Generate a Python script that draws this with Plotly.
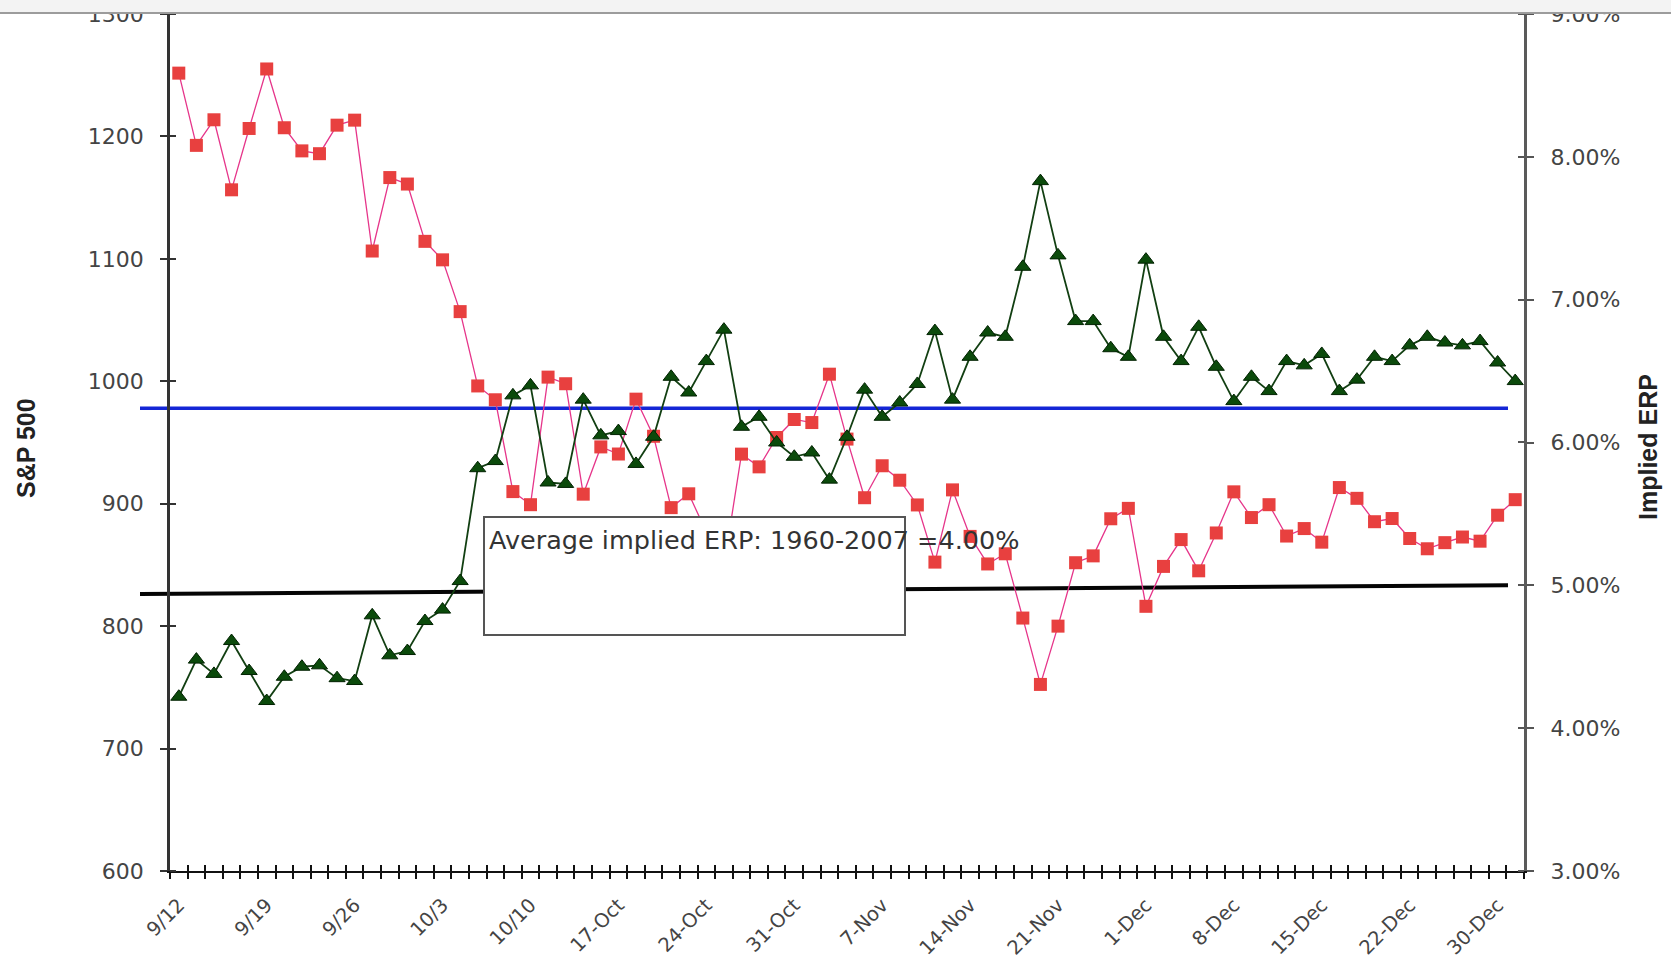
import plotly.graph_objects as go

# Trading days, 12 Sep 2008 - 31 Dec 2008
dates = [
    "9/12", "9/15", "9/16", "9/17", "9/18", "9/19", "9/22", "9/23", "9/24", "9/25",
    "9/26", "9/29", "9/30", "10/1", "10/2", "10/3", "10/6", "10/7", "10/8", "10/9",
    "10/10", "10/13", "10/14", "10/15", "10/16", "17-Oct", "20-Oct", "21-Oct", "22-Oct", "23-Oct",
    "24-Oct", "27-Oct", "28-Oct", "29-Oct", "30-Oct", "31-Oct", "3-Nov", "4-Nov", "5-Nov", "6-Nov",
    "7-Nov", "10-Nov", "11-Nov", "12-Nov", "13-Nov", "14-Nov", "17-Nov", "18-Nov", "19-Nov", "20-Nov",
    "21-Nov", "24-Nov", "25-Nov", "26-Nov", "28-Nov", "1-Dec", "2-Dec", "3-Dec", "4-Dec", "5-Dec",
    "8-Dec", "9-Dec", "10-Dec", "11-Dec", "12-Dec", "15-Dec", "16-Dec", "17-Dec", "18-Dec", "19-Dec",
    "22-Dec", "23-Dec", "24-Dec", "26-Dec", "29-Dec", "30-Dec", "31-Dec",
]

sp500 = [
    1251.7, 1192.7, 1213.6, 1156.4, 1206.5, 1255.1, 1207.1, 1188.2, 1185.9, 1209.2,
    1213.3, 1106.4, 1166.4, 1161.1, 1114.3, 1099.2, 1056.9, 996.2, 984.9, 909.9,
    899.2, 1003.4, 998.0, 907.8, 946.4, 940.6, 985.4, 955.1, 896.8, 908.1,
    876.8, 848.9, 940.5, 930.1, 954.1, 968.8, 966.3, 1005.8, 952.8, 904.9,
    931.0, 919.2, 899.0, 852.3, 911.3, 873.3, 850.8, 859.1, 806.6, 752.4,
    800.0, 851.8, 857.4, 887.7, 896.2, 816.2, 848.8, 870.7, 845.2, 876.1,
    909.7, 888.7, 899.2, 873.6, 879.7, 868.6, 913.2, 904.4, 885.3, 887.9,
    871.6, 863.2, 868.2, 872.8, 869.4, 890.6, 903.3,
]

# Implied equity risk premium, in percent
implied_erp = [
    4.22, 4.48, 4.38, 4.61, 4.40, 4.19, 4.36, 4.43, 4.44, 4.35,
    4.33, 4.79, 4.51, 4.54, 4.75, 4.83, 5.03, 5.82, 5.87, 6.33,
    6.40, 5.72, 5.71, 6.30, 6.05, 6.08, 5.85, 6.04, 6.46, 6.35,
    6.57, 6.79, 6.11, 6.18, 6.00, 5.90, 5.93, 5.74, 6.04, 6.37,
    6.18, 6.28, 6.41, 6.78, 6.30, 6.60, 6.77, 6.74, 7.23, 7.83,
    7.31, 6.85, 6.85, 6.66, 6.60, 7.28, 6.74, 6.57, 6.81, 6.53,
    6.29, 6.46, 6.36, 6.57, 6.54, 6.62, 6.36, 6.44, 6.60, 6.57,
    6.68, 6.74, 6.70, 6.68, 6.71, 6.56, 6.43,
]

# Reference levels on the ERP scale (percent)
blue_level = [6.24, 6.24]
black_level = [4.94, 5.00]

sp_ticks = [600, 700, 800, 900, 1000, 1100, 1200, 1300]
erp_ticks = [3, 4, 5, 6, 7, 8, 9]
erp_ticktext = [f"{v:.2f}%" for v in erp_ticks]
note_text = "Average implied ERP: 1960-2007 =4.00%"

n = len(dates)
# a label on every fifth trading day
x_ticktext = [d if i % 5 == 0 else "" for i, d in enumerate(dates)]

W, H = 1671, 960
ML, MR, MT, MB = 170, 147, 14, 89
plot_w = W - ML - MR
plot_h = H - MT - MB


def px_x(px):
    return (px - ML) / plot_w


def px_y(py):
    return 1 - (py - MT) / plot_h


tick_font = dict(family="DejaVu Sans", size=22, color="#444444")
xtick_font = dict(family="DejaVu Sans", size=19.5, color="#444444")

fig = go.Figure()

fig.add_trace(go.Scatter(
    x=dates, y=sp500, name="S&P 500", mode="lines+markers",
    line=dict(color="#e6358a", width=1.3),
    marker=dict(symbol="square", size=13, color="#e8403f", line=dict(width=0)),
    xaxis="x", yaxis="y",
))
fig.add_trace(go.Scatter(
    x=dates, y=implied_erp, name="Implied ERP", mode="lines+markers",
    line=dict(color="#123f12", width=1.8),
    marker=dict(symbol="triangle-up", size=14, color="#0b4a0b",
                line=dict(color="#022202", width=1)),
    xaxis="x2", yaxis="y2",
))

common_x = dict(type="category", range=[-0.5, n - 0.5],
                tickvals=dates, tickson="boundaries",
                showgrid=False, zeroline=False, automargin=False)

fig.update_layout(
    width=W, height=H,
    margin=dict(l=ML, r=MR, t=MT, b=MB, autoexpand=False),
    paper_bgcolor="white", plot_bgcolor="white",
    showlegend=False,
    xaxis=dict(
        **common_x,
        ticktext=x_ticktext, tickangle=-45,
        ticks="outside", ticklen=6, tickwidth=1.6, tickcolor="#111111",
        ticklabelstandoff=13, tickfont=xtick_font,
        showline=True, linecolor="#111111", linewidth=2,
    ),
    xaxis2=dict(
        **common_x,
        overlaying="x", anchor="y2",
        ticks="inside", ticklen=6, tickwidth=1.6, tickcolor="#111111",
        showticklabels=False, showline=False,
    ),
    yaxis=dict(
        range=[600, 1300], tickvals=sp_ticks,
        ticks="outside", ticklen=7, tickwidth=2, tickcolor="#333333",
        minor=dict(tickvals=[v + 0.01 for v in sp_ticks], ticks="inside",
                   ticklen=6, tickwidth=2, tickcolor="#333333"),
        ticklabelstandoff=12, tickfont=tick_font,
        showline=True, linecolor="#333333", linewidth=2.5,
        showgrid=False, zeroline=False, automargin=False,
    ),
    yaxis2=dict(
        overlaying="y", side="right", anchor="x2",
        range=[3, 9], tickvals=erp_ticks, ticktext=erp_ticktext,
        ticks="outside", ticklen=7, tickwidth=2, tickcolor="#555555",
        minor=dict(tickvals=[v + 0.0001 for v in erp_ticks], ticks="inside",
                   ticklen=6, tickwidth=2, tickcolor="#555555"),
        ticklabelstandoff=12, tickfont=tick_font,
        showline=True, linecolor="#5a5a5a", linewidth=3,
        showgrid=False, zeroline=False, automargin=False,
    ),
)

# Horizontal reference levels, running slightly past the left axis
line_x0, line_x1 = px_x(140), px_x(1508)
fig.add_shape(type="line", xref="paper", yref="y2",
              x0=line_x0, x1=line_x1, y0=blue_level[0], y1=blue_level[1],
              line=dict(color="#1426d6", width=3.5), layer="below")
fig.add_shape(type="line", xref="paper", yref="y2",
              x0=line_x0, x1=line_x1, y0=black_level[0], y1=black_level[1],
              line=dict(color="#050505", width=4), layer="below")

# Note box
fig.add_shape(type="rect", xref="paper", yref="paper",
              x0=px_x(484), x1=px_x(905), y0=px_y(635), y1=px_y(517),
              fillcolor="white", line=dict(color="#555555", width=2), layer="above")
fig.add_annotation(xref="paper", yref="paper", x=px_x(487), y=px_y(540),
                   xanchor="left", yanchor="middle", showarrow=False,
                   text=note_text,
                   font=dict(family="DejaVu Sans", size=25.5, color="#333333"))

# Axis titles
title_font = dict(family="Liberation Sans", size=25, color="#222222", weight="bold")
fig.add_annotation(xref="paper", yref="paper", x=px_x(26), y=px_y(448),
                   text="S&P 500", textangle=-90, showarrow=False,
                   xanchor="center", yanchor="middle", font=title_font)
fig.add_annotation(xref="paper", yref="paper", x=px_x(1648), y=px_y(447),
                   text="Implied ERP", textangle=-90, showarrow=False,
                   xanchor="center", yanchor="middle", font=title_font)

# Light band across the top edge
fig.add_shape(type="rect", xref="paper", yref="paper",
              x0=px_x(-5), x1=px_x(W + 5), y0=px_y(13), y1=px_y(-5),
              fillcolor="#f3f3f3", line=dict(width=0), layer="above")
fig.add_shape(type="line", xref="paper", yref="paper",
              x0=px_x(-5), x1=px_x(W + 5), y0=px_y(13), y1=px_y(13),
              line=dict(color="#9c9c9c", width=2), layer="above")

fig.write_html("out.html")
